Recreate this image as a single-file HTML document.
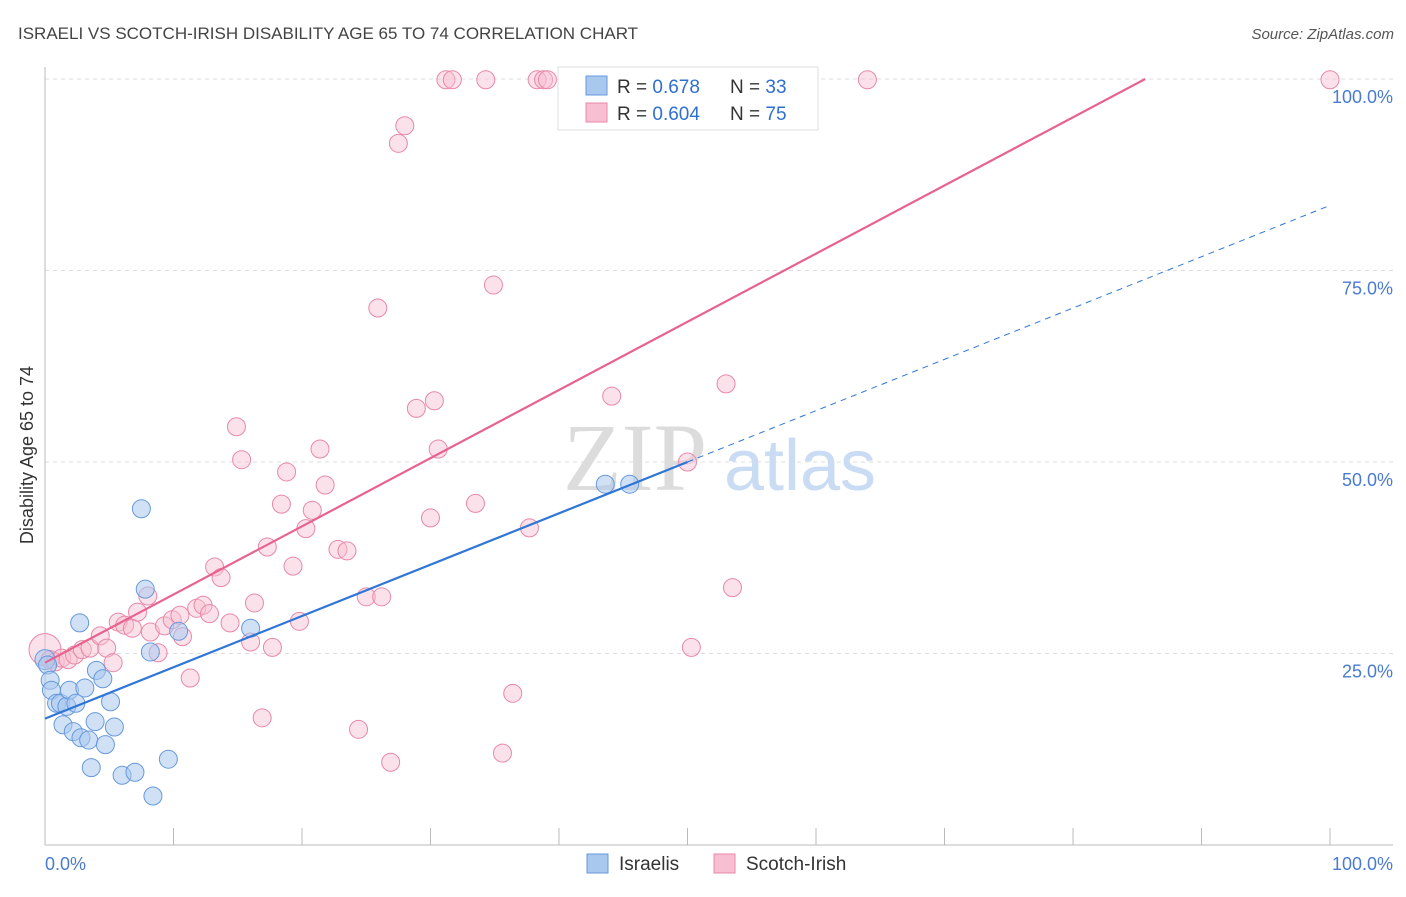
<!DOCTYPE html>
<html><head><meta charset="utf-8"><style>
body{margin:0;background:#fff;font-family:"Liberation Sans",sans-serif;}
svg text{font-family:"Liberation Sans",sans-serif;}
</style></head><body>
<svg id="chart" width="1406" height="892" viewBox="0 0 1406 892">
<text x="18" y="39" font-size="17" fill="#444">ISRAELI VS SCOTCH-IRISH DISABILITY AGE 65 TO 74 CORRELATION CHART</text>
<text x="1394" y="39" font-size="15" fill="#555" text-anchor="end" font-style="italic">Source: ZipAtlas.com</text>
<text transform="translate(33,455) rotate(-90)" font-size="18" fill="#333" text-anchor="middle">Disability Age 65 to 74</text>
<g id="grid"></g>
<g>
<text x="635" y="490" font-size="96" fill="#dcdcdc" text-anchor="middle" font-family="Liberation Serif" style="font-family:'Liberation Serif',serif">ZIP</text>
<text x="800" y="490" font-size="72" fill="#c9dcf3" text-anchor="middle">atlas</text>
</g>
<g id="pts"></g>
<g id="lines"></g>
<g>
<rect x="558" y="67" width="260" height="63" fill="#fff" stroke="#ddd"/>
<rect x="586" y="76" width="21" height="19" fill="#a9c8ee" stroke="#6699dd"/>
<rect x="586" y="103" width="21" height="19" fill="#f7bfd1" stroke="#e888a8"/>
<text x="617" y="93" font-size="19" fill="#333">R = <tspan fill="#2f6fd0">0.678</tspan></text>
<text x="730" y="93" font-size="19" fill="#333">N = <tspan fill="#2f6fd0">33</tspan></text>
<text x="617" y="120" font-size="19" fill="#333">R = <tspan fill="#2f6fd0">0.604</tspan></text>
<text x="730" y="120" font-size="19" fill="#333">N = <tspan fill="#2f6fd0">75</tspan></text>
</g>
<g>
<rect x="587" y="854" width="21" height="19" fill="#a9c8ee" stroke="#6699dd"/>
<text x="619" y="870" font-size="19" fill="#333">Israelis</text>
<rect x="714" y="854" width="21" height="19" fill="#f7bfd1" stroke="#e888a8"/>
<text x="746" y="870" font-size="19" fill="#333">Scotch-Irish</text>
</g>
</svg>
<script>
const yTicks=[25,50,75,100];
const yTickLabels=["25.0%","50.0%","75.0%","100.0%"];
const xTicks=[0,10,20,30,40,50,60,70,80,90,100];
const israeliX=[0,0.2,0.4,0.5,0.9,1.2,1.4,1.7,1.9,2.2,2.4,2.7,2.8,3.1,3.4,3.6,3.9,4.0,4.5,4.7,5.1,5.4,6.0,7.0,7.5,7.8,8.2,8.4,9.6,10.4,16.0,43.6,45.5];
const israeliY=[24.2,23.5,21.5,20.2,18.5,18.5,15.7,18.1,20.2,14.8,18.5,29.0,14.0,20.5,13.7,10.1,16.1,22.8,21.7,13.1,18.7,15.4,9.1,9.5,43.9,33.4,25.2,6.4,11.2,27.9,28.3,47.1,47.1];
const scotchX=[0,0.4,0.8,1.3,1.8,2.3,2.9,3.5,4.3,4.8,5.3,5.7,6.2,6.8,7.2,8.0,8.2,8.8,9.3,9.9,10.5,10.7,11.3,11.8,12.3,12.8,13.2,13.7,14.4,14.9,15.3,16.0,16.3,16.9,17.3,17.7,18.4,18.8,19.3,19.8,20.3,20.8,21.4,21.8,22.8,23.5,24.4,25.0,25.9,26.2,26.9,27.5,28.0,28.9,30.0,30.3,30.6,31.2,31.7,33.5,34.3,34.9,35.6,36.4,37.7,38.3,38.8,39.1,44.1,50.0,50.3,53.0,53.5,64.0,100];
const scotchY=[25.5,24.2,23.9,24.4,24.2,24.8,25.5,25.7,27.3,25.7,23.8,29.1,28.7,28.3,30.4,32.5,27.8,25.1,28.6,29.4,30.0,27.2,21.8,30.9,31.3,30.2,36.3,34.9,29.0,54.6,50.3,26.5,31.6,16.6,38.9,25.8,44.5,48.7,36.4,29.2,41.3,43.7,51.7,47.0,38.6,38.4,15.1,32.4,70.1,32.4,10.8,91.6,93.9,57.0,42.7,58.0,51.7,99.9,99.9,44.6,99.9,73.1,12.0,19.8,41.4,99.9,99.9,99.9,58.6,50.0,25.8,60.2,33.6,99.9,99.9];
const israeliFit=[16.5,0.67];
const scotchFit=[23.8,0.89];
const NS="http://www.w3.org/2000/svg";
const sx=v=>45+v*12.85, sy=v=>845-v*7.66;
function mk(tag,attrs,parent){const e=document.createElementNS(NS,tag);for(const k in attrs)e.setAttribute(k,attrs[k]);parent.appendChild(e);return e;}
const grid=document.getElementById('grid');
yTicks.forEach((t,i)=>{
 const l=mk('line',{x1:45,x2:1393,y1:sy(t),y2:sy(t),stroke:'#ddd','stroke-dasharray':'4,4'},grid);
 
 
 const tx=mk('text',{x:1393,y:sy(t)+24,'font-size':18,fill:'#4a7bd0','text-anchor':'end'},grid);
 tx.textContent=yTickLabels[i];
 
 
});
const ax=mk('line',{x1:45,x2:1393,y1:845,y2:845,stroke:'#bbb'},grid);


const ay=mk('line',{x1:45,x2:45,y1:67,y2:845,stroke:'#bbb'},grid);


xTicks.forEach(t=>{const l=mk('line',{x1:sx(t),x2:sx(t),y1:828,y2:845,stroke:'#bbb'},grid);
 
 });
const x0=mk('text',{x:45,y:870,'font-size':18,fill:'#4a7bd0'},grid);x0.textContent='0.0%';


const x1=mk('text',{x:1393,y:870,'font-size':18,fill:'#4a7bd0','text-anchor':'end'},grid);x1.textContent='100.0%';


const pts=document.getElementById('pts');
scotchX.forEach((x,i)=>{const c=mk('circle',{cx:sx(x),cy:sy(scotchY[i]),r:i==0?16:9,fill:'#f7bfd1','fill-opacity':0.45,stroke:'#e888a8','stroke-width':1},pts);
 
 });
israeliX.forEach((x,i)=>{const c=mk('circle',{cx:sx(x),cy:sy(israeliY[i]),r:i==0?10:9,fill:'#a9c8ee','fill-opacity':0.55,stroke:'#6699dd','stroke-width':1},pts);
 
 });
const lines=document.getElementById('lines');
const fb=v=>israeliFit[0]+israeliFit[1]*v, fp=v=>scotchFit[0]+scotchFit[1]*v;
const bl=mk('line',{x1:sx(0),y1:sy(fb(0)),x2:sx(50),y2:sy(fb(50)),stroke:'#2f76d6','stroke-width':2.2},lines);


const bd=mk('line',{x1:sx(50),y1:sy(fb(50)),x2:sx(100),y2:sy(fb(100)),stroke:'#2f76d6','stroke-width':1,'stroke-dasharray':'6,5'},lines);


const xEnd=(100-scotchFit[0])/scotchFit[1];
const pl=mk('line',{x1:sx(0),y1:sy(fp(0)),x2:sx(xEnd),y2:sy(100),stroke:'#e8628f','stroke-width':2.2},lines);


</script>
</body></html>
